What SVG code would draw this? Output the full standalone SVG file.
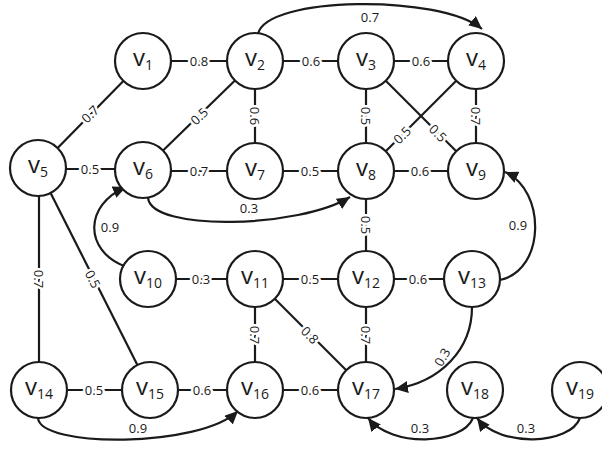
<svg xmlns="http://www.w3.org/2000/svg" width="602" height="455" viewBox="0 0 602 455">
<style>
.e{stroke:#1a1a1a;stroke-width:2.2;fill:none}
.a{stroke:#1a1a1a;stroke-width:2.2;fill:none;marker-end:url(#ah)}
.c{fill:#fff;stroke:#1a1a1a;stroke-width:2.2}
.n{font-family:"Open Sans","Liberation Sans",sans-serif;font-size:24px;fill:#1a1a1a;text-anchor:middle}
.s{font-size:14px}
.l{font-family:"Open Sans","Liberation Sans",sans-serif;font-size:13px;fill:#1a1a1a;text-anchor:middle;dominant-baseline:central}
.h{paint-order:stroke;stroke:#fff;stroke-width:5px;stroke-linejoin:round}
</style>
<defs>
<marker id="ah" markerUnits="userSpaceOnUse" markerWidth="14" markerHeight="12" refX="13" refY="6" orient="auto">
<path d="M0,0 L13,6 L0,12 z" fill="#1a1a1a"/>
</marker>
</defs>
<g id="connectors">
<line class="e" x1="143" y1="61" x2="255" y2="61"/>
<line class="e" x1="255" y1="61" x2="366" y2="61"/>
<line class="e" x1="366" y1="61" x2="476" y2="61"/>
<line class="e" x1="143" y1="61" x2="38" y2="168"/>
<line class="e" x1="255" y1="61" x2="143" y2="170"/>
<line class="e" x1="255" y1="61" x2="255" y2="171"/>
<line class="e" x1="366" y1="61" x2="366" y2="171"/>
<line class="e" x1="476" y1="61" x2="476" y2="171"/>
<line class="e" x1="366" y1="61" x2="476" y2="171"/>
<line class="e" x1="476" y1="61" x2="366" y2="171"/>
<line class="e" x1="38" y1="169" x2="143" y2="169"/>
<line class="e" x1="143" y1="171" x2="255" y2="171"/>
<line class="e" x1="255" y1="171" x2="366" y2="171"/>
<line class="e" x1="366" y1="171" x2="476" y2="171"/>
<line class="e" x1="366" y1="171" x2="366" y2="279"/>
<line class="e" x1="39" y1="168" x2="39" y2="390"/>
<line class="e" x1="38" y1="168" x2="150" y2="390"/>
<line class="e" x1="148" y1="279" x2="255" y2="279"/>
<line class="e" x1="255" y1="279" x2="366" y2="279"/>
<line class="e" x1="366" y1="279" x2="472" y2="279"/>
<line class="e" x1="255" y1="279" x2="255" y2="390"/>
<line class="e" x1="255" y1="279" x2="366" y2="390"/>
<line class="e" x1="366" y1="279" x2="366" y2="390"/>
<line class="e" x1="39" y1="390" x2="150" y2="390"/>
<line class="e" x1="150" y1="390" x2="255" y2="390"/>
<line class="e" x1="255" y1="390" x2="366" y2="390"/>
<path class="a" d="M258,34 C266,-4 440,-6 482,29"/>
<path class="a" d="M148,198 C152,232 300,228 350,197"/>
<path class="a" d="M124,266 C84,250 84,205 126,187"/>
<path class="a" d="M500,280 C546,270 546,190 505,172"/>
<path class="a" d="M472,307 C472,350 440,382 395,389"/>
<path class="a" d="M38,418 C40,448 200,448 238,411"/>
<path class="a" d="M473,418 C462,445 392,448 368,418"/>
<path class="a" d="M580,418 C570,445 500,448 477,418"/>
<text class="l h" x="199" y="61">0.8</text>
<text class="l h" x="311" y="61">0.6</text>
<text class="l h" x="421" y="61">0.6</text>
<text class="l h" x="90" y="169">0.5</text>
<text class="l h" x="199" y="171">0.7</text>
<text class="l h" x="310" y="171">0.5</text>
<text class="l h" x="420" y="171">0.6</text>
<text class="l h" x="201" y="279">0.3</text>
<text class="l h" x="310" y="279">0.5</text>
<text class="l h" x="418" y="279">0.6</text>
<text class="l h" x="94" y="390">0.5</text>
<text class="l h" x="202" y="390">0.6</text>
<text class="l h" x="310" y="390">0.6</text>
<text class="l h" transform="translate(90,114) rotate(-45)">0.7</text>
<text class="l h" transform="translate(199,116) rotate(-44)">0.5</text>
<text class="l h" transform="translate(255,116) rotate(90)">0.6</text>
<text class="l h" transform="translate(366,116) rotate(90)">0.5</text>
<text class="l h" transform="translate(476,116) rotate(90)">0.7</text>
<text class="l h" transform="translate(438,133) rotate(45)">0.5</text>
<text class="l h" transform="translate(402,135) rotate(-45)">0.5</text>
<text class="l h" transform="translate(366,225) rotate(90)">0.5</text>
<text class="l h" transform="translate(39,279) rotate(90)">0.7</text>
<text class="l h" transform="translate(93,279) rotate(63)">0.5</text>
<text class="l h" transform="translate(255,335) rotate(90)">0.7</text>
<text class="l h" transform="translate(310,335) rotate(45)">0.8</text>
<text class="l h" transform="translate(366,335) rotate(90)">0.7</text>
<text class="l" x="370" y="17">0.7</text>
<text class="l" x="249" y="208">0.3</text>
<text class="l" x="110" y="227">0.9</text>
<text class="l" x="518" y="225">0.9</text>
<text class="l" transform="translate(442,357) rotate(-60)">0.3</text>
<text class="l" x="138" y="428">0.9</text>
<text class="l" x="420" y="428">0.3</text>
<text class="l" x="526" y="428">0.3</text>
</g>
<g id="v1"><circle class="c" cx="143" cy="61" r="28"/><text class="n" x="143" y="66">v<tspan class="s" dy="3.5">1</tspan></text></g>
<g id="v2"><circle class="c" cx="255" cy="61" r="28"/><text class="n" x="255" y="66">v<tspan class="s" dy="3.5">2</tspan></text></g>
<g id="v3"><circle class="c" cx="366" cy="61" r="28"/><text class="n" x="366" y="66">v<tspan class="s" dy="3.5">3</tspan></text></g>
<g id="v4"><circle class="c" cx="476" cy="61" r="28"/><text class="n" x="476" y="66">v<tspan class="s" dy="3.5">4</tspan></text></g>
<g id="v5"><circle class="c" cx="38" cy="168" r="28"/><text class="n" x="38" y="173">v<tspan class="s" dy="3.5">5</tspan></text></g>
<g id="v6"><circle class="c" cx="143" cy="170" r="28"/><text class="n" x="143" y="175">v<tspan class="s" dy="3.5">6</tspan></text></g>
<g id="v7"><circle class="c" cx="255" cy="171" r="28"/><text class="n" x="255" y="176">v<tspan class="s" dy="3.5">7</tspan></text></g>
<g id="v8"><circle class="c" cx="366" cy="171" r="28"/><text class="n" x="366" y="176">v<tspan class="s" dy="3.5">8</tspan></text></g>
<g id="v9"><circle class="c" cx="476" cy="171" r="28"/><text class="n" x="476" y="176">v<tspan class="s" dy="3.5">9</tspan></text></g>
<g id="v10"><circle class="c" cx="148" cy="279" r="28"/><text class="n" x="148" y="284">v<tspan class="s" dy="3.5">10</tspan></text></g>
<g id="v11"><circle class="c" cx="255" cy="279" r="28"/><text class="n" x="255" y="284">v<tspan class="s" dy="3.5">11</tspan></text></g>
<g id="v12"><circle class="c" cx="366" cy="279" r="28"/><text class="n" x="366" y="284">v<tspan class="s" dy="3.5">12</tspan></text></g>
<g id="v13"><circle class="c" cx="472" cy="279" r="28"/><text class="n" x="472" y="284">v<tspan class="s" dy="3.5">13</tspan></text></g>
<g id="v14"><circle class="c" cx="39" cy="390" r="28"/><text class="n" x="39" y="395">v<tspan class="s" dy="3.5">14</tspan></text></g>
<g id="v15"><circle class="c" cx="150" cy="390" r="28"/><text class="n" x="150" y="395">v<tspan class="s" dy="3.5">15</tspan></text></g>
<g id="v16"><circle class="c" cx="255" cy="390" r="28"/><text class="n" x="255" y="395">v<tspan class="s" dy="3.5">16</tspan></text></g>
<g id="v17"><circle class="c" cx="366" cy="390" r="28"/><text class="n" x="366" y="395">v<tspan class="s" dy="3.5">17</tspan></text></g>
<g id="v18"><circle class="c" cx="475" cy="390" r="28"/><text class="n" x="475" y="395">v<tspan class="s" dy="3.5">18</tspan></text></g>
<g id="v19"><circle class="c" cx="580" cy="390" r="28"/><text class="n" x="580" y="395">v<tspan class="s" dy="3.5">19</tspan></text></g>
</svg>
